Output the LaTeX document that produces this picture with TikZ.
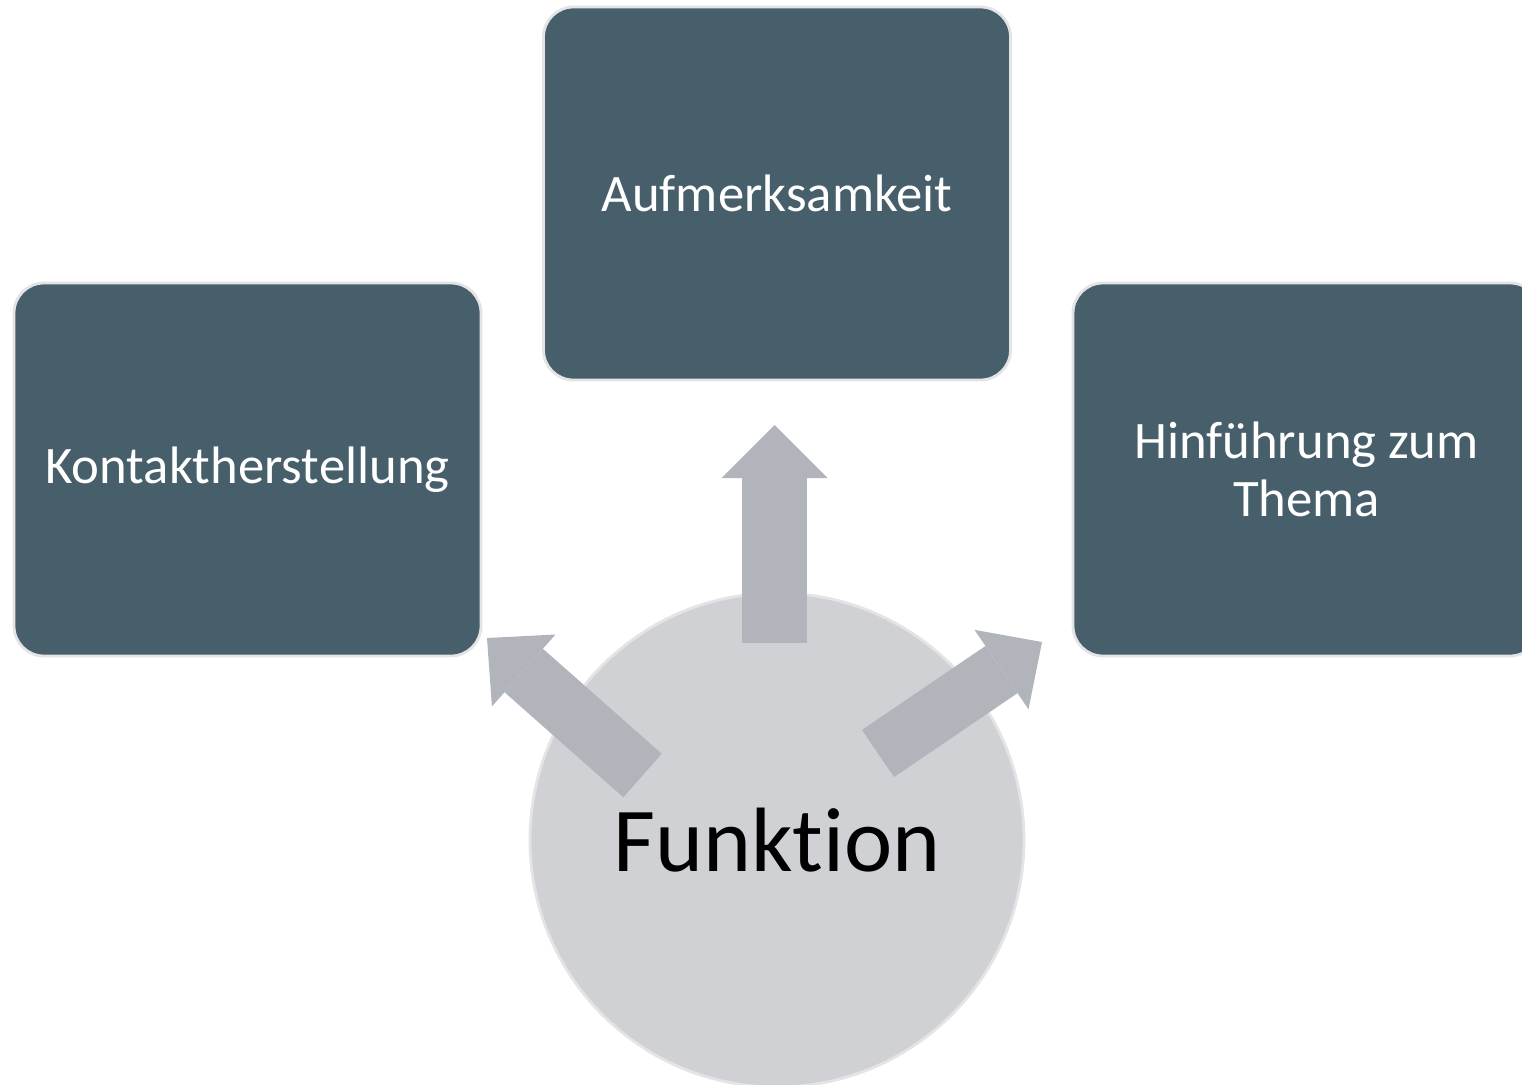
\documentclass[tikz,border=0pt]{standalone}
\usepackage{fontspec}
\setmainfont{Carlito}[Ligatures={NoCommon,NoRare,NoContextual}]
\usetikzlibrary{arrows.meta}

\definecolor{boxfill}{HTML}{475F6B}
\definecolor{hubfill}{HTML}{D0D1D5}
\definecolor{arrowfill}{HTML}{B1B4BB}
\definecolor{rimline}{HTML}{E4E4E6}

\tikzset{
  task/.style={rectangle, rounded corners=0.3cm, fill=boxfill, draw=rimline,
    line width=0.8pt, text=white, minimum width=4.67cm, minimum height=3.73cm,
    align=center, font=\fontsize{15}{16.5}\selectfont},
  hub/.style={circle, fill=hubfill, draw=rimline, line width=0.8pt,
    minimum size=4.94cm, font=\fontsize{26}{30}\selectfont},
  flow/.style={draw=arrowfill, line width=0.58cm,
    -{Triangle[length=0.49cm, width=0.96cm, line width=0pt]}}
}

\begin{document}
\begin{tikzpicture}
    \clip (0,0) rectangle (15.22,10.84);
    \fill[white] (0,0) rectangle (15.22,10.84);

    % centre
    \node[hub] (funktion) at (7.77,2.44) {Funkt\kern0pt ion};

    % the three boxes
    \node[task] (aufmerksamkeit) at (7.77,8.905) {Aufmerksamkeit};
    \node[task] (kontakt) at (2.475,6.145) {Kontaktherstellung};
    \node[task] (thema) at (13.065,6.145) {Hinführung zum\\Thema};

    % arrows out of the circle
    \coordinate (upbase) at (7.745,4.41);
    \coordinate (uptip) at (7.745,6.59);
    \coordinate (leftbase) at (6.425,3.085);
    \coordinate (lefttip) at (4.87,4.46);
    \coordinate (rightbase) at (8.78,3.305);
    \coordinate (righttip) at (10.42,4.42);

    \draw[flow, line width=0.65cm, -{Triangle[length=0.53cm, width=1.06cm, line width=0pt]}] (upbase) -- (uptip);
    \draw[flow] (leftbase) -- (lefttip);
    \draw[flow, line width=0.57cm] (rightbase) -- (righttip);
\end{tikzpicture}
\end{document}
